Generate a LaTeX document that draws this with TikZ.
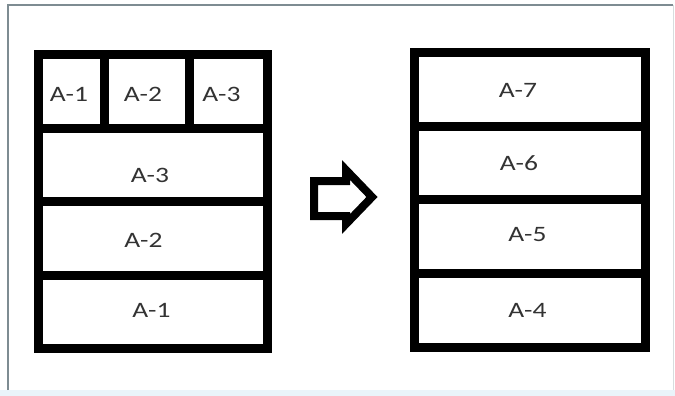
\documentclass[tikz,border=0pt]{standalone}
\usepackage{fontspec}
\newfontfamily\lbl[FakeStretch=1.25]{Carlito}
\definecolor{txt}{HTML}{333333}
\definecolor{framegray}{HTML}{7E8C92}
\definecolor{bandblue}{HTML}{EAF4FA}
\begin{document}
\begin{tikzpicture}[x=1pt,y=-1pt,
  thick box/.style={draw=black,line width=9pt,line join=miter},
  lbltext/.style={font=\lbl\fontsize{22}{22}\selectfont,text=txt,inner sep=0pt}]
\useasboundingbox (0,0) rectangle (675,396);
% frame of the picture
\fill[white] (0,0) rectangle (675,396);
\fill[bandblue] (0,390) rectangle (675,396);
\draw[framegray,line width=1.2pt] (8,390) -- (8,5) -- (673,5);
\draw[framegray!30,line width=0.8pt] (673,5) -- (673,390);
% left stack
\draw[thick box] (38,54.5) rectangle (267.5,348.5);
\draw[thick box] (38,128) -- (267.5,128);
\draw[thick box] (38,201.5) -- (267.5,201.5);
\draw[thick box] (38,275) -- (267.5,275);
\draw[thick box] (104.5,54.5) -- (104.5,128);
\draw[thick box] (189,54.5) -- (189,128);
\node[lbltext] (l11) at (69,94.5) {A-1};
\node[lbltext] (l12) at (143,94.5) {A-2};
\node[lbltext] (l13) at (221.5,94.5) {A-3};
\node[lbltext] (l3) at (150,175) {A-3};
\node[lbltext] (l2) at (143.5,240) {A-2};
\node[lbltext] (l1) at (151.5,310.5) {A-1};
% arrow
\draw[thick box,line width=8pt] (314,181) -- (346,181) -- (346,170) -- (372,197)
  -- (346,224) -- (346,216) -- (314,216) -- cycle;
% right stack
\draw[thick box] (414.5,52.5) rectangle (645.5,347);
\draw[thick box] (414.5,126.5) -- (645.5,126.5);
\draw[thick box] (414.5,199.5) -- (645.5,199.5);
\draw[thick box] (414.5,273.5) -- (645.5,273.5);
\node[lbltext] (r7) at (518,90) {A-7};
\node[lbltext] (r6) at (519,163.5) {A-6};
\node[lbltext] (r5) at (527.5,234.5) {A-5};
\node[lbltext] (r4) at (527.5,310.5) {A-4};
\end{tikzpicture}
\end{document}
